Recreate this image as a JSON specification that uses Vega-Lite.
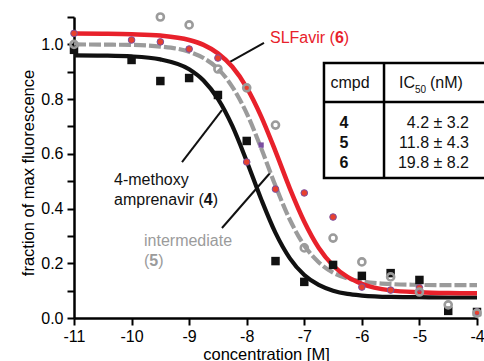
{
  "$schema": "https://vega.github.io/schema/vega-lite/v6.json",
  "width": 403,
  "height": 301,
  "autosize": {"type": "none"},
  "padding": {"left": 74, "top": 17, "right": 7, "bottom": 43},
  "background": "white",
  "config": {"view": {"stroke": null}, "font": "Liberation Sans"},
  "datasets": {
    "fits": [
      {"cmpd": "4", "x": -11, "y": 0.960}, {"cmpd": "4", "x": -10.5, "y": 0.959}, {"cmpd": "4", "x": -10, "y": 0.956},
      {"cmpd": "4", "x": -9.5, "y": 0.945}, {"cmpd": "4", "x": -9, "y": 0.909}, {"cmpd": "4", "x": -8.75, "y": 0.868},
      {"cmpd": "4", "x": -8.5, "y": 0.801}, {"cmpd": "4", "x": -8.25, "y": 0.702}, {"cmpd": "4", "x": -8, "y": 0.573},
      {"cmpd": "4", "x": -7.75, "y": 0.435}, {"cmpd": "4", "x": -7.5, "y": 0.311}, {"cmpd": "4", "x": -7.25, "y": 0.218},
      {"cmpd": "4", "x": -7, "y": 0.157}, {"cmpd": "4", "x": -6.75, "y": 0.121}, {"cmpd": "4", "x": -6.5, "y": 0.100},
      {"cmpd": "4", "x": -6.25, "y": 0.088}, {"cmpd": "4", "x": -6, "y": 0.082}, {"cmpd": "4", "x": -5.5, "y": 0.077},
      {"cmpd": "4", "x": -5, "y": 0.076}, {"cmpd": "4", "x": -4.5, "y": 0.075}, {"cmpd": "4", "x": -4, "y": 0.075},
      {"cmpd": "5", "x": -11, "y": 1.000}, {"cmpd": "5", "x": -10.5, "y": 0.999}, {"cmpd": "5", "x": -10, "y": 0.998},
      {"cmpd": "5", "x": -9.5, "y": 0.992}, {"cmpd": "5", "x": -9, "y": 0.973}, {"cmpd": "5", "x": -8.75, "y": 0.950},
      {"cmpd": "5", "x": -8.5, "y": 0.911}, {"cmpd": "5", "x": -8.25, "y": 0.845}, {"cmpd": "5", "x": -8, "y": 0.748},
      {"cmpd": "5", "x": -7.75, "y": 0.621}, {"cmpd": "5", "x": -7.5, "y": 0.483}, {"cmpd": "5", "x": -7.25, "y": 0.359},
      {"cmpd": "5", "x": -7, "y": 0.265}, {"cmpd": "5", "x": -6.75, "y": 0.204}, {"cmpd": "5", "x": -6.5, "y": 0.166},
      {"cmpd": "5", "x": -6.25, "y": 0.145}, {"cmpd": "5", "x": -6, "y": 0.134}, {"cmpd": "5", "x": -5.5, "y": 0.124},
      {"cmpd": "5", "x": -5, "y": 0.121}, {"cmpd": "5", "x": -4.5, "y": 0.120}, {"cmpd": "5", "x": -4, "y": 0.120},
      {"cmpd": "6", "x": -11, "y": 1.040}, {"cmpd": "6", "x": -10.5, "y": 1.039}, {"cmpd": "6", "x": -10, "y": 1.037},
      {"cmpd": "6", "x": -9.5, "y": 1.032}, {"cmpd": "6", "x": -9, "y": 1.016}, {"cmpd": "6", "x": -8.75, "y": 0.998},
      {"cmpd": "6", "x": -8.5, "y": 0.967}, {"cmpd": "6", "x": -8.25, "y": 0.918}, {"cmpd": "6", "x": -8, "y": 0.842},
      {"cmpd": "6", "x": -7.75, "y": 0.737}, {"cmpd": "6", "x": -7.5, "y": 0.609}, {"cmpd": "6", "x": -7.25, "y": 0.473},
      {"cmpd": "6", "x": -7, "y": 0.352}, {"cmpd": "6", "x": -6.75, "y": 0.257}, {"cmpd": "6", "x": -6.5, "y": 0.192},
      {"cmpd": "6", "x": -6.25, "y": 0.150}, {"cmpd": "6", "x": -6, "y": 0.125}, {"cmpd": "6", "x": -5.5, "y": 0.101},
      {"cmpd": "6", "x": -5, "y": 0.094}, {"cmpd": "6", "x": -4.5, "y": 0.091}, {"cmpd": "6", "x": -4, "y": 0.090}
    ],
    "pts": [
      {"s": "p", "x": -7.75, "y": 0.632},
      {"s": "4", "x": -11, "y": 0.98}, {"s": "4", "x": -10, "y": 0.943}, {"s": "4", "x": -9.5, "y": 0.866},
      {"s": "4", "x": -9, "y": 0.877}, {"s": "4", "x": -8.5, "y": 0.815}, {"s": "4", "x": -8, "y": 0.647},
      {"s": "4", "x": -7.5, "y": 0.208}, {"s": "4", "x": -7, "y": 0.132}, {"s": "4", "x": -6.5, "y": 0.194},
      {"s": "4", "x": -6, "y": 0.154}, {"s": "4", "x": -5.5, "y": 0.164}, {"s": "4", "x": -5, "y": 0.139},
      {"s": "4", "x": -4.5, "y": 0.026}, {"s": "4", "x": -4, "y": 0.022},
      {"s": "6", "x": -11, "y": 1.04}, {"s": "6", "x": -10, "y": 1.016}, {"s": "6", "x": -9.5, "y": 1.009},
      {"s": "6", "x": -9, "y": 0.983}, {"s": "6", "x": -8.5, "y": 0.950}, {"s": "6", "x": -8, "y": 0.841},
      {"s": "6", "x": -8, "y": 0.570}, {"s": "6", "x": -7.5, "y": 0.471}, {"s": "6", "x": -7, "y": 0.457},
      {"s": "6", "x": -6.5, "y": 0.369}, {"s": "6", "x": -6, "y": 0.113}, {"s": "6", "x": -5.5, "y": 0.102},
      {"s": "6", "x": -5, "y": 0.110}, {"s": "6", "x": -4, "y": 0.022},
      {"s": "5", "x": -11, "y": 1.0}, {"s": "5", "x": -9.5, "y": 1.10}, {"s": "5", "x": -9, "y": 1.071},
      {"s": "5", "x": -8.5, "y": 0.910}, {"s": "5", "x": -8, "y": 0.841}, {"s": "5", "x": -7.5, "y": 0.705},
      {"s": "5", "x": -7, "y": 0.256}, {"s": "5", "x": -6.5, "y": 0.292}, {"s": "5", "x": -6, "y": 0.205},
      {"s": "5", "x": -5.5, "y": 0.150}, {"s": "5", "x": -5, "y": 0.095}, {"s": "5", "x": -4.5, "y": 0.048},
      {"s": "5", "x": -4, "y": 0.018}
    ],
    "tbl": [
      {"part": "box", "x": -6.658, "x2": -3.8, "y": 0.932, "y2": 0.512},
      {"part": "line", "x": -6.658, "x2": -3.8, "y": 0.789, "y2": 0.789},
      {"part": "line", "x": -5.615, "x2": -5.615, "y": 0.932, "y2": 0.512}
    ],
    "leaders": [
      {"to": "6", "x": -7.70, "y": 1.005, "x2": -8.29, "y2": 0.936},
      {"to": "4", "x": -9.124, "y": 0.570, "x2": -8.43, "y2": 0.760},
      {"to": "5", "x": -8.43, "y": 0.329, "x2": -7.595, "y2": 0.530}
    ],
    "labels": [
      {"role": "slf", "x": -7.595, "y": 1.005, "text": "SLFavir ("},
      {"role": "slfB", "x": -6.468, "y": 1.005, "text": "6"},
      {"role": "slf", "x": -6.314, "y": 1.005, "text": ")"},
      {"role": "c4", "x": -10.305, "y": 0.486, "text": "4-methoxy"},
      {"role": "c4", "x": -10.305, "y": 0.413, "text": "amprenavir ("},
      {"role": "c4B", "x": -8.745, "y": 0.413, "text": "4"},
      {"role": "c4", "x": -8.591, "y": 0.413, "text": ")"},
      {"role": "c5", "x": -9.784, "y": 0.264, "text": "intermediate"},
      {"role": "c5", "x": -9.784, "y": 0.190, "text": "("},
      {"role": "c5B", "x": -9.692, "y": 0.190, "text": "5"},
      {"role": "c5", "x": -9.537, "y": 0.190, "text": ")"},
      {"role": "head", "x": -6.206, "y": 0.841, "text": "cmpd"},
      {"role": "headL", "x": -5.355, "y": 0.841, "text": "IC"},
      {"role": "sub", "x": -5.077, "y": 0.822, "text": "50"},
      {"role": "headL", "x": -4.816, "y": 0.841, "text": "(nM)"},
      {"role": "num", "x": -6.31, "y": 0.694, "text": "4"},
      {"role": "num", "x": -6.31, "y": 0.621, "text": "5"},
      {"role": "num", "x": -6.31, "y": 0.548, "text": "6"},
      {"role": "val", "x": -4.139, "y": 0.694, "text": "4.2 ± 3.2"},
      {"role": "val", "x": -4.139, "y": 0.621, "text": "11.8 ± 4.3"},
      {"role": "val", "x": -4.139, "y": 0.548, "text": "19.8 ± 8.2"}
    ]
  },
  "encoding": {
    "x": {
      "field": "x", "type": "quantitative",
      "scale": {"domain": [-11, -4], "nice": false, "zero": false},
      "axis": {
        "values": [-11, -10, -9, -8, -7, -6, -5, -4],
        "labelExpr": "'' + datum.value",
        "title": "concentration [M]",
        "grid": false, "domainColor": "black", "domainWidth": 2.5,
        "tickColor": "black", "tickWidth": 2, "tickSize": 7,
        "labelFontSize": 16, "labelColor": "black", "labelPadding": 3,
        "labelFlush": false, "labelOverlap": false, "labelFont": "Liberation Sans",
        "titleFontSize": 16.5, "titleFontWeight": "normal", "titleColor": "black", "titleFont": "Liberation Sans",
        "titleBaseline": "alphabetic", "titleAlign": "center", "titleX": 192, "titleY": 41
      }
    },
    "y": {
      "field": "y", "type": "quantitative",
      "scale": {"domain": [0, 1.1], "nice": false, "zero": false},
      "axis": {
        "values": [0, 0.1, 0.2, 0.3, 0.4, 0.5, 0.6, 0.7, 0.8, 0.9, 1, 1.1],
        "labelExpr": "round(datum.value*10) % 2 == 0 && datum.value < 1.05 ? format(datum.value, '.1f') : ''",
        "title": "fraction of max fluorescence",
        "grid": false, "domainColor": "black", "domainWidth": 2.5,
        "tickColor": "black", "tickWidth": 2, "tickSize": 7,
        "labelFontSize": 16, "labelColor": "black", "labelPadding": 4,
        "labelFont": "Liberation Sans", "labelOverlap": false, "labelFlush": false,
        "titleFontSize": 16.5, "titleFontWeight": "normal", "titleColor": "black", "titleFont": "Liberation Sans",
        "titleBaseline": "alphabetic", "titleAlign": "center", "titleAngle": -90, "titleX": -41, "titleY": 155.5
      }
    }
  },
  "layer": [
    {
      "data": {"name": "tbl"},
      "transform": [{"filter": "datum.part == 'box'"}],
      "mark": {"type": "rect", "fill": null, "fillOpacity": 0, "stroke": "black", "strokeWidth": 2.5},
      "encoding": {"x2": {"field": "x2"}, "y2": {"field": "y2"}}
    },
    {
      "data": {"name": "tbl"},
      "transform": [{"filter": "datum.part == 'line'"}],
      "mark": {"type": "rule", "stroke": "black", "strokeWidth": 2.5},
      "encoding": {"x2": {"field": "x2"}, "y2": {"field": "y2"}}
    },
    {
      "data": {"name": "leaders"},
      "mark": {"type": "rule", "stroke": "#111", "strokeWidth": 2},
      "encoding": {"x2": {"field": "x2"}, "y2": {"field": "y2"}}
    },
    {
      "data": {"name": "fits"},
      "transform": [{"filter": "datum.cmpd == '4'"}],
      "mark": {"type": "line", "color": "#111111", "strokeWidth": 4.2, "interpolate": "monotone"},
      "encoding": {"order": {"field": "x", "type": "quantitative"}}
    },
    {
      "data": {"name": "fits"},
      "transform": [{"filter": "datum.cmpd == '5'"}],
      "mark": {"type": "line", "color": "#9b9b9b", "strokeWidth": 4.2, "strokeDash": [12, 3], "interpolate": "monotone"},
      "encoding": {"order": {"field": "x", "type": "quantitative"}}
    },
    {
      "data": {"name": "fits"},
      "transform": [{"filter": "datum.cmpd == '6'"}],
      "mark": {"type": "line", "color": "#e8212b", "strokeWidth": 4.5, "interpolate": "monotone"},
      "encoding": {"order": {"field": "x", "type": "quantitative"}}
    },
    {
      "data": {"name": "pts"},
      "transform": [{"filter": "datum.s == 'p'"}],
      "mark": {"type": "point", "shape": "square", "filled": true, "size": 28, "color": "#7b4fa0", "opacity": 1}
    },
    {
      "data": {"name": "pts"},
      "transform": [{"filter": "datum.s == '4'"}],
      "mark": {"type": "point", "shape": "square", "filled": true, "size": 72, "color": "#111111", "opacity": 1}
    },
    {
      "data": {"name": "pts"},
      "transform": [{"filter": "datum.s == '6'"}],
      "mark": {"type": "point", "shape": "circle", "filled": true, "size": 44, "fill": "#e8402e", "stroke": "#7b4fa0", "strokeWidth": 1, "opacity": 1}
    },
    {
      "data": {"name": "pts"},
      "transform": [{"filter": "datum.s == '5'"}],
      "mark": {"type": "point", "shape": "circle", "filled": false, "size": 50, "stroke": "#9b9b9b", "strokeWidth": 2.6, "opacity": 1}
    },
    {
      "data": {"name": "labels"},
      "transform": [{"filter": "datum.role == 'slf'"}],
      "mark": {"type": "text", "align": "left", "baseline": "alphabetic", "fontSize": 16, "color": "#e8212b"},
      "encoding": {"text": {"field": "text"}}
    },
    {
      "data": {"name": "labels"},
      "transform": [{"filter": "datum.role == 'slfB'"}],
      "mark": {"type": "text", "align": "left", "baseline": "alphabetic", "fontSize": 16, "fontWeight": "bold", "color": "#e8212b"},
      "encoding": {"text": {"field": "text"}}
    },
    {
      "data": {"name": "labels"},
      "transform": [{"filter": "datum.role == 'c4'"}],
      "mark": {"type": "text", "align": "left", "baseline": "alphabetic", "fontSize": 16, "color": "#111111"},
      "encoding": {"text": {"field": "text"}}
    },
    {
      "data": {"name": "labels"},
      "transform": [{"filter": "datum.role == 'c4B'"}],
      "mark": {"type": "text", "align": "left", "baseline": "alphabetic", "fontSize": 16, "fontWeight": "bold", "color": "#111111"},
      "encoding": {"text": {"field": "text"}}
    },
    {
      "data": {"name": "labels"},
      "transform": [{"filter": "datum.role == 'c5'"}],
      "mark": {"type": "text", "align": "left", "baseline": "alphabetic", "fontSize": 16, "color": "#9b9b9b"},
      "encoding": {"text": {"field": "text"}}
    },
    {
      "data": {"name": "labels"},
      "transform": [{"filter": "datum.role == 'c5B'"}],
      "mark": {"type": "text", "align": "left", "baseline": "alphabetic", "fontSize": 16, "fontWeight": "bold", "color": "#9b9b9b"},
      "encoding": {"text": {"field": "text"}}
    },
    {
      "data": {"name": "labels"},
      "transform": [{"filter": "datum.role == 'head'"}],
      "mark": {"type": "text", "align": "center", "baseline": "alphabetic", "fontSize": 16, "color": "#111111"},
      "encoding": {"text": {"field": "text"}}
    },
    {
      "data": {"name": "labels"},
      "transform": [{"filter": "datum.role == 'headL'"}],
      "mark": {"type": "text", "align": "left", "baseline": "alphabetic", "fontSize": 16, "color": "#111111"},
      "encoding": {"text": {"field": "text"}}
    },
    {
      "data": {"name": "labels"},
      "transform": [{"filter": "datum.role == 'sub'"}],
      "mark": {"type": "text", "align": "left", "baseline": "alphabetic", "fontSize": 10, "color": "#111111"},
      "encoding": {"text": {"field": "text"}}
    },
    {
      "data": {"name": "labels"},
      "transform": [{"filter": "datum.role == 'num'"}],
      "mark": {"type": "text", "align": "center", "baseline": "alphabetic", "fontSize": 16, "fontWeight": "bold", "color": "#111111"},
      "encoding": {"text": {"field": "text"}}
    },
    {
      "data": {"name": "labels"},
      "transform": [{"filter": "datum.role == 'val'"}],
      "mark": {"type": "text", "align": "right", "baseline": "alphabetic", "fontSize": 16, "color": "#111111"},
      "encoding": {"text": {"field": "text"}}
    }
  ]
}
